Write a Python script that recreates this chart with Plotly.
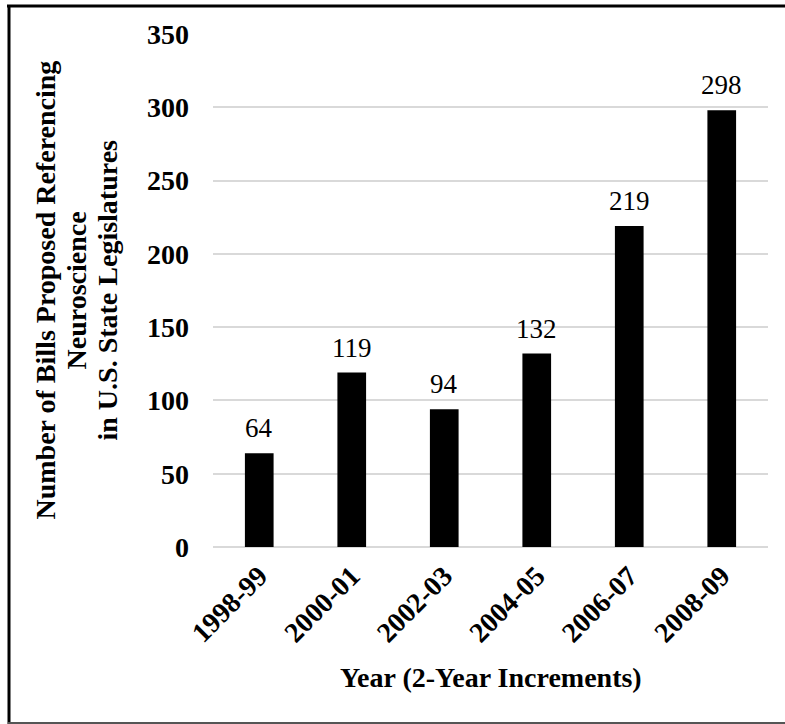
import plotly.graph_objects as go

categories = ["1998-99", "2000-01", "2002-03", "2004-05", "2006-07", "2008-09"]
bill_counts = [64, 119, 94, 132, 219, 298]
y_ticks = [0, 50, 100, 150, 200, 250, 300, 350]
y_title_lines = ["Number of Bills Proposed Referencing", "Neuroscience", "in U.S. State Legislatures"]
x_title = "Year (2-Year Increments)"

W, H = 785, 724
L, R, T, B = 213, 768, 34, 547
FONT = "Liberation Serif, Times New Roman, serif"


def px_x(p):
    return (p - L) / (R - L)


def px_y(p):
    return (B - p) / (B - T)


fig = go.Figure()
fig.add_trace(go.Bar(
    x=categories, y=bill_counts,
    marker=dict(color="black", line=dict(width=0)),
    hoverinfo="x+y",
))

annotations = []
for c, v in zip(categories, bill_counts):
    annotations.append(dict(
        x=c, y=v, xref="x", yref="y", text=str(v), showarrow=False,
        yanchor="bottom", yshift=8,
        font=dict(family=FONT, size=27, color="black"),
    ))

for line, cx in zip(y_title_lines, [45, 76, 107]):
    annotations.append(dict(
        x=px_x(cx), y=0.5, xref="paper", yref="paper", text=line,
        showarrow=False, textangle=-90, xanchor="center", yanchor="middle",
        font=dict(family=FONT, size=28, color="black", weight="bold"),
    ))

annotations.append(dict(
    x=0.5, y=px_y(677), xref="paper", yref="paper", text=x_title,
    showarrow=False, xanchor="center", yanchor="middle",
    font=dict(family=FONT, size=28, color="black", weight="bold"),
))

shapes = [
    dict(type="line", xref="paper", yref="paper", x0=px_x(7), x1=px_x(786), y0=px_y(6), y1=px_y(6),
         line=dict(color="black", width=3)),
    dict(type="line", xref="paper", yref="paper", x0=px_x(9), x1=px_x(9), y0=px_y(5), y1=px_y(725),
         line=dict(color="black", width=3)),
    dict(type="line", xref="paper", yref="paper", x0=px_x(8), x1=px_x(786), y0=px_y(723), y1=px_y(723),
         line=dict(color="#555555", width=2)),
]

fig.update_layout(
    width=W, height=H,
    margin=dict(l=L, r=W - R, t=T, b=H - B, pad=0),
    paper_bgcolor="white", plot_bgcolor="white",
    bargap=0.69,
    showlegend=False,
    annotations=annotations,
    shapes=shapes,
    font=dict(family=FONT, color="black"),
    xaxis=dict(
        type="category", tickangle=-45, showgrid=False, showline=False, ticks="",
        tickfont=dict(family=FONT, size=28, color="black", weight="bold"),
        ticklabelstandoff=6,
    ),
    yaxis=dict(
        range=[0, 350], tickvals=y_ticks, showgrid=True, gridcolor="#d9d9d9", gridwidth=1.5,
        zeroline=True, zerolinecolor="#d9d9d9", zerolinewidth=1.5, showline=False, ticks="",
        tickfont=dict(family=FONT, size=28, color="black", weight="bold"),
        ticklabelstandoff=23,
    ),
)

fig.write_html(
    "out.html",
    config={"displayModeBar": False},
    post_script="document.body.style.margin='0';document.body.style.overflow='hidden';",
)
